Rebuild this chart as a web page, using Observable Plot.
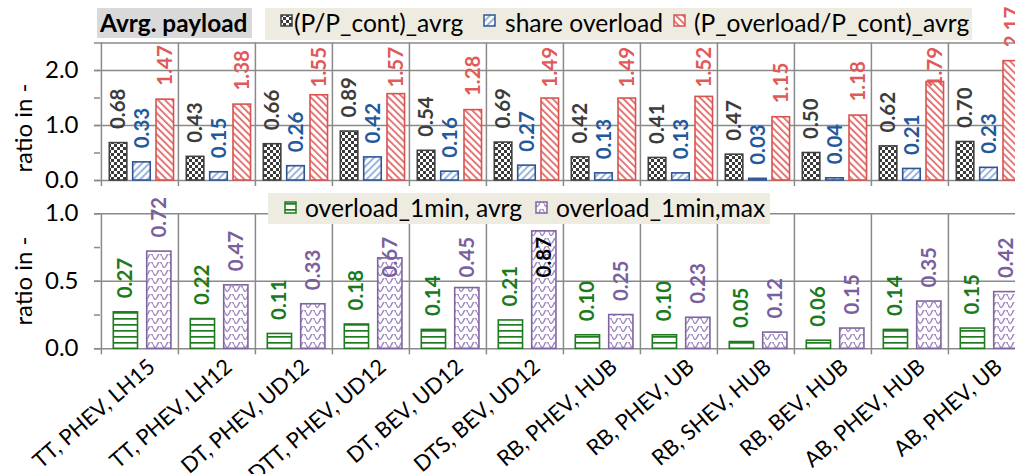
<!DOCTYPE html>
<html>
<head>
<meta charset="utf-8">
<script src="https://cdn.jsdelivr.net/npm/d3@7"></script>
<script src="https://cdn.jsdelivr.net/npm/@observablehq/plot@0.6"></script>
<style>
html,body{margin:0;padding:0;background:#fff;overflow:hidden;width:1015px;height:474px}
#root{position:relative;width:1030px;height:474px;font-family:Lato,"Noto Sans",sans-serif;color:#000}
.panel{position:absolute;left:0}
.box{position:absolute;box-sizing:border-box}
.item{position:absolute;white-space:nowrap;font-size:24.6px;line-height:1}
.ytitle{position:absolute;white-space:nowrap;font-size:24px;transform:translate(-50%,-50%) rotate(-90deg)}
</style>
</head>
<body>
<svg width="0" height="0" style="position:absolute">
  <defs>
    <pattern id="pat-checker" width="6" height="6" patternUnits="userSpaceOnUse">
      <rect width="6" height="6" fill="#fff"/>
      <rect width="3" height="3" fill="#3a3a3a"/>
      <rect x="3" y="3" width="3" height="3" fill="#3a3a3a"/>
    </pattern>
    <pattern id="pat-blue" width="5" height="5" patternUnits="userSpaceOnUse" patternTransform="rotate(45)">
      <rect width="5" height="5" fill="#fff"/>
      <rect width="2" height="5" fill="#9bb5dd"/>
    </pattern>
    <pattern id="pat-red" width="5" height="5" patternUnits="userSpaceOnUse" patternTransform="rotate(-45)">
      <rect width="5" height="5" fill="#fff"/>
      <rect width="1.8" height="5" fill="#e36a6a"/>
    </pattern>
    <pattern id="pat-green" width="6" height="6" patternUnits="userSpaceOnUse">
      <rect width="6" height="6" fill="#fff"/>
      <rect y="2" width="6" height="1.7" fill="#1e7b1e"/>
    </pattern>
    <pattern id="pat-purple" width="9" height="8" patternUnits="userSpaceOnUse">
      <rect width="9" height="8" fill="#fff"/>
      <path d="M0,2.5 C1.6,6.5 2.9,6.5 4.5,2.5 C6.1,-1.5 7.4,-1.5 9,2.5" fill="none" stroke="#a08bc1" stroke-width="1.5"/>
    </pattern>
  </defs>
</svg>
<div id="root"></div>
<script>
// ---------------- data ----------------
const categories = ["TT, PHEV, LH15","TT, PHEV, LH12","DT, PHEV, UD12","DTT, PHEV, UD12","DT, BEV, UD12","DTS, BEV, UD12","RB, PHEV, HUB","RB, PHEV, UB","RB, SHEV, HUB","RB, BEV, HUB","AB, PHEV, HUB","AB, PHEV, UB"];
const pRatioAvg      = [0.68,0.43,0.66,0.89,0.54,0.69,0.42,0.41,0.47,0.50,0.62,0.70];
const shareOverload  = [0.33,0.15,0.26,0.42,0.16,0.27,0.13,0.13,0.03,0.04,0.21,0.23];
const overloadRatio  = [1.47,1.38,1.55,1.57,1.28,1.49,1.49,1.52,1.15,1.18,1.79,2.17];
const overload1minAvg = [0.27,0.22,0.11,0.18,0.14,0.21,0.10,0.10,0.05,0.06,0.14,0.15];
const overload1minMax = [0.72,0.47,0.33,0.67,0.45,0.87,0.25,0.23,0.12,0.15,0.35,0.42];
const topSeriesNames = ["(P/P_cont)_avrg","share overload","(P_overload/P_cont)_avrg"];
const bottomSeriesNames = ["overload_1min, avrg","overload_1min,max"];
const topTitle = "Avrg. payload";
const yTitle = "ratio in -";
const topTicks = [0,0.5,1,1.5,2];
const topTickLabels = [0,1,2];
const bottomTicks = [0,0.25,0.5,0.75,1];
const bottomTickLabels = [0,0.5,1];

// ---------------- styles / layout ----------------
const GRID = "#8a8a8a";
const W = 1030, ML = 100, MR = 4;
const bandW = (W - ML - MR) / categories.length;
const LABEL_LEN = 40, LABEL_GAP = 14;

const topPanel = {
  values: [pRatioAvg, shareOverload, overloadRatio],
  names: topSeriesNames,
  fills: ["url(#pat-checker)","url(#pat-blue)","url(#pat-red)"],
  strokes: ["#404040","#2f5597","#d9534f"],
  labelColors: ["#3c3c3c","#24589c","#e05a5a"],
  starts: [8.3, 31.7, 55], barW: 17.7,
  pageTop: 0, height: 192, marginTop: 42.5, marginBottom: 12, ymax: 2.5,
  ticks: topTicks, tickLabels: topTickLabels, grid: [1,2,2.5],
  legend: {x1: 265, x2: 972, clampTop: 47},
  xAxis: false
};
const bottomPanel = {
  values: [overload1minAvg, overload1minMax],
  names: bottomSeriesNames,
  fills: ["url(#pat-green)","url(#pat-purple)"],
  strokes: ["#1e7b1e","#7f659f"],
  labelColors: ["#1b7a1b","#7a5f9e"],
  starts: [12.3, 45.7], barW: 24.4,
  pageTop: 190, height: 284, marginTop: 23.3, marginBottom: 125.7, ymax: 1,
  ticks: bottomTicks, tickLabels: bottomTickLabels, grid: [0.5,1],
  legend: {x1: 268, x2: 770, clampTop: 237},
  xAxis: true
};

function buildPanel(P) {
  const plotH = P.height - P.marginTop - P.marginBottom;
  const k = plotH / P.ymax;
  const baseSvg = P.height - P.marginBottom;
  const plotW = W - ML - MR;
  const marks = [];
  marks.push(Plot.ruleY(P.grid, {stroke: GRID, strokeWidth: 1.5, insetLeft: -6}));
  marks.push(Plot.ruleY([0], {stroke: GRID, strokeWidth: 1.5, insetLeft: -6}));
  marks.push(Plot.ruleY(P.ticks, {stroke: GRID, strokeWidth: 1.5, insetLeft: -6, insetRight: plotW}));
  marks.push(Plot.ruleX(categories, {x: d => d, dx: -bandW / 2, stroke: GRID, strokeWidth: 1.5, insetBottom: -6}));
  P.values.forEach((arr, s) => {
    const rows = categories.map((c, i) => ({c, i, v: arr[i]}));
    marks.push(Plot.barY(rows, {
      x: "c", y: "v", fill: P.fills[s], stroke: P.strokes[s], strokeWidth: 1.6,
      insetLeft: P.starts[s], insetRight: bandW - P.starts[s] - P.barW
    }));
    const dx = P.starts[s] + P.barW / 2 - bandW / 2;
    const lab = rows.map(d => {
      const barTopPage = P.pageTop + baseSvg - d.v * k;
      let startPage = barTopPage - LABEL_GAP;
      const xPage = ML + (d.i + 0.5) * bandW + dx;
      if (xPage > P.legend.x1 && xPage < P.legend.x2 && startPage - LABEL_LEN < P.legend.clampTop) {
        startPage = P.legend.clampTop + LABEL_LEN;
      }
      const inside = startPage - LABEL_LEN > barTopPage;
      return {c: d.c, t: d.v.toFixed(2), y: (P.pageTop + baseSvg - startPage) / k, col: inside ? "#000" : P.labelColors[s]};
    });
    marks.push(Plot.text(lab, {
      x: "c", y: "y", text: "t", rotate: -90, textAnchor: "start", fill: "col",
      fontWeight: "bold", fontSize: 20.5, dx
    }));
  });
  marks.push(Plot.axisY({ticks: P.tickLabels, tickSize: 0, tickPadding: 22, fontSize: 24,
    tickFormat: d => d.toFixed(1)}));
  if (P.xAxis) {
    marks.push(Plot.axisX({tickRotate: -41, tickSize: 0, tickPadding: 15, fontSize: 21.7, dx: 12, label: null}));
  }
  return Plot.plot({
    width: W, height: P.height,
    marginLeft: ML, marginRight: MR, marginTop: P.marginTop, marginBottom: P.marginBottom,
    x: {type: "band", domain: categories, padding: 0, axis: null},
    y: {domain: [0, P.ymax], axis: null},
    color: {type: "identity"},
    style: {fontFamily: "Lato, 'Noto Sans', sans-serif", color: "#000", background: "transparent", maxWidth: "none", overflow: "visible"},
    marks
  });
}

const root = document.getElementById("root");
[topPanel, bottomPanel].forEach(P => {
  const svg = buildPanel(P);
  const wrap = document.createElement("div");
  wrap.className = "panel";
  wrap.style.top = P.pageTop + "px";
  wrap.appendChild(svg);
  root.appendChild(wrap);
});

[[21.5, 128], [21.5, 281]].forEach(([x, y]) => {
  const d = document.createElement("div");
  d.className = "ytitle";
  d.style.left = x + "px"; d.style.top = y + "px";
  d.textContent = yTitle;
  root.appendChild(d);
});

function addBox(x, y, w, h, bg) {
  const b = document.createElement("div");
  b.className = "box";
  Object.assign(b.style, {left: x + "px", top: y + "px", width: w + "px", height: h + "px", background: bg});
  root.appendChild(b);
  return b;
}
addBox(97, 8, 155, 30, "#d9d9d9");
const tt = document.createElement("div");
tt.className = "item";
Object.assign(tt.style, {left: "100px", top: "11px", fontWeight: "bold", fontSize: "24.4px"});
tt.textContent = topTitle;
root.appendChild(tt);

function swatch(fill, stroke, x, y, size) {
  const ns = "http://www.w3.org/2000/svg";
  const s = document.createElementNS(ns, "svg");
  s.setAttribute("width", size + 2); s.setAttribute("height", size + 2);
  s.style.position = "absolute"; s.style.left = x + "px"; s.style.top = y + "px";
  const r = document.createElementNS(ns, "rect");
  r.setAttribute("x", 1); r.setAttribute("y", 1); r.setAttribute("width", size); r.setAttribute("height", size);
  r.setAttribute("fill", fill); r.setAttribute("stroke", stroke); r.setAttribute("stroke-width", 1.5);
  s.appendChild(r);
  root.appendChild(s);
}
function addLegend(P, box, swX, txX, swY, txY) {
  addBox(box[0], box[1], box[2], box[3], "#eeece1");
  P.names.forEach((n, s) => {
    swatch(P.fills[s], P.strokes[s], swX[s], swY, 11);
    const t = document.createElement("div");
    t.className = "item";
    Object.assign(t.style, {left: txX[s] + "px", top: txY + "px"});
    t.textContent = n;
    root.appendChild(t);
  });
}
addLegend(topPanel, [265, 8, 707, 32], [280, 483, 673], [294, 505, 694], 14, 11);
addLegend(bottomPanel, [268, 193, 502, 31], [284, 535], [305, 556], 201, 196);
</script>
</body>
</html>
